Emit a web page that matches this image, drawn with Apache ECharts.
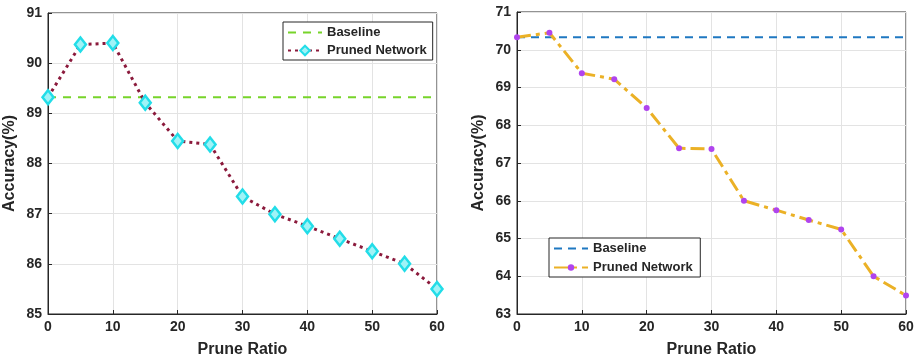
<!DOCTYPE html>
<html>
<head>
<meta charset="utf-8">
<script src="https://cdn.jsdelivr.net/npm/echarts@6/dist/echarts.min.js"></script>
<style>
  html, body { margin: 0; padding: 0; background: #fff; }
  #chart { width: 917px; height: 363px; }
</style>
</head>
<body>
<div id="chart"></div>
<script>
// prune ratios shared by both panels
const pruneRatio = [0, 5, 10, 15, 20, 25, 30, 35, 40, 45, 50, 55, 60];

// left panel
const leftPruned = [89.32, 90.37, 90.40, 89.21, 88.45, 88.38, 87.34, 86.99, 86.75, 86.50, 86.25, 86.00, 85.50];
const leftBaseline = 89.32;

// right panel
const rightPruned = [70.33, 70.45, 69.38, 69.22, 68.46, 67.39, 67.37, 66.00, 65.75, 65.49, 65.24, 64.00, 63.49];
const rightBaseline = 70.33;

const font = "Arial, 'Liberation Sans', sans-serif";
const chart = echarts.init(document.getElementById("chart"));

function pairs(values) {
  return values.map((v, i) => [pruneRatio[i], v]);
}

function baselineData(v) {
  return [[pruneRatio[0], v], [pruneRatio[pruneRatio.length - 1], v]];
}

function xAxis(gridIndex) {
  return {
    gridIndex,
    type: "value",
    min: 0,
    max: 60,
    interval: 10,
    name: "Prune Ratio",
    nameLocation: "middle",
    nameGap: 28,
    nameTextStyle: { fontFamily: font, fontWeight: "bold", fontSize: 16, color: "#262626" },
    axisLine: { lineStyle: { color: "#262626" } },
    axisTick: { inside: true, length: 4, lineStyle: { color: "#262626" } },
    axisLabel: { fontFamily: font, fontWeight: "bold", fontSize: 14, color: "#262626", margin: 6 },
    splitLine: { show: true, lineStyle: { color: "#e3e3e3" } },
  };
}

function yAxis(gridIndex, min, max) {
  return {
    gridIndex,
    type: "value",
    min,
    max,
    interval: 1,
    name: "Accuracy(%)",
    nameLocation: "middle",
    nameGap: 30,
    nameTextStyle: { fontFamily: font, fontWeight: "bold", fontSize: 16, color: "#262626" },
    axisLine: { show: true, lineStyle: { color: "#262626" } },
    axisTick: { show: true, inside: true, length: 4, lineStyle: { color: "#262626" } },
    axisLabel: { fontFamily: font, fontWeight: "bold", fontSize: 14, color: "#262626", margin: 6 },
    splitLine: { show: true, lineStyle: { color: "#e3e3e3" } },
  };
}

const legendText = { fontFamily: font, fontWeight: "bold", fontSize: 13, color: "#262626" };

chart.setOption({
  animation: false,
  backgroundColor: "#fff",
  grid: [
    { left: 48, top: 13, width: 389, height: 301, show: true, borderColor: "#262626", borderWidth: 1 },
    { left: 517, top: 12, width: 389, height: 303, show: true, borderColor: "#262626", borderWidth: 1 },
  ],
  legend: [
    {
      data: [
        { name: "Baseline", itemStyle: { opacity: 0 } },
        "Pruned Network",
      ],
      orient: "vertical",
      left: 283, top: 22,
      itemWidth: 34, itemHeight: 12, itemGap: 5,
      padding: [4, 6, 3, 4],
      borderColor: "#262626", borderWidth: 1, backgroundColor: "#fff",
      textStyle: legendText,
      selectedMode: false,
    },
    {
      data: [
        { name: "Baseline ", itemStyle: { opacity: 0 } },
        "Pruned Network ",
      ],
      orient: "vertical",
      left: 549, top: 238,
      itemWidth: 34, itemHeight: 8, itemGap: 6,
      padding: [4, 4, 3, 4],
      borderColor: "#262626", borderWidth: 1, backgroundColor: "#fff",
      textStyle: legendText,
      selectedMode: false,
    },
  ],
  xAxis: [xAxis(0), xAxis(1)],
  yAxis: [yAxis(0, 85, 91), yAxis(1, 63, 71)],
  series: [
    {
      name: "Baseline",
      type: "line",
      xAxisIndex: 0, yAxisIndex: 0,
      data: baselineData(leftBaseline),
      symbol: "none",
      lineStyle: { color: "#77d42a", width: 2, type: [8, 7] },
      itemStyle: { color: "#77d42a" },
      z: 2,
    },
    {
      name: "Pruned Network",
      type: "line",
      xAxisIndex: 0, yAxisIndex: 0,
      data: pairs(leftPruned),
      symbol: "diamond",
      symbolSize: [11, 14],
      lineStyle: { color: "#8b1a3c", width: 3, type: [3, 4] },
      itemStyle: { color: "#9ff3f7", borderColor: "#22dde8", borderWidth: 2.5 },
      z: 3,
    },
    {
      name: "Baseline ",
      type: "line",
      xAxisIndex: 1, yAxisIndex: 1,
      data: baselineData(rightBaseline),
      symbol: "none",
      lineStyle: { color: "#1f78c1", width: 2, type: [8, 6] },
      itemStyle: { color: "#1f78c1" },
      z: 2,
    },
    {
      name: "Pruned Network ",
      type: "line",
      xAxisIndex: 1, yAxisIndex: 1,
      data: pairs(rightPruned),
      symbol: "circle",
      symbolSize: 6,
      lineStyle: { color: "#ebb126", width: 3, type: [14, 5, 4, 5] },
      itemStyle: { color: "#b044ee", borderWidth: 0 },
      z: 3,
    },
  ],
});
</script>
</body>
</html>
